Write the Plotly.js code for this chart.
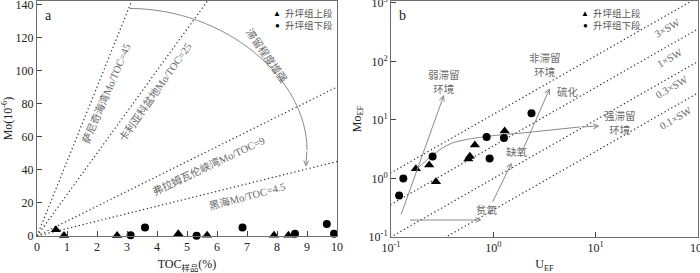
<!DOCTYPE html>
<html><head><meta charset="utf-8">
<script src="https://cdn.plot.ly/plotly-3.0.1.min.js"></script>
<style>html,body{margin:0;padding:0;background:#fff}#c{width:700px;height:273px}</style>
</head><body><div id="c"></div>
<script>
// ---- Panel a: TOC vs Mo ----
const tocUpper = [0.63, 0.9, 2.67, 4.71, 5.67, 7.9, 8.38];
const moUpper  = [3.8, 0.3, 0.3, 1.4, 0.4, 0.4, 0.4];
const tocLower = [3.12, 3.6, 5.32, 6.85, 8.6, 9.66, 9.9];
const moLower  = [0.5, 5.2, 0.2, 5.2, 1.4, 7.2, 1.4];
const refRatios = [45, 25, 9, 4.5];
const refNames = ['萨尼奇海湾Mo/TOC=45', '卡利亚科盆地Mo/TOC=25', '弗拉姆瓦伦峡湾Mo/TOC=9', '黑海Mo/TOC=4.5'];

// ---- Panel b: U_EF vs Mo_EF ----
const uUpper  = [1.29, 0.66, 0.59, 0.57, 0.236, 0.175, 0.275];
const moEFUpper = [6.5, 3.75, 2.4, 2.15, 1.70, 1.47, 0.88];
const uLower  = [2.36, 0.86, 1.27, 0.92, 0.255, 0.132, 0.12];
const moEFLower = [13, 5.1, 4.9, 2.2, 2.37, 1.0, 0.51];
const swRatios = [12.5, 3.6, 1.0, 0.29];
const swLabels = ['3×SW', '1×SW', '0.3×SW', '0.1×SW'];
// guide curve (trend arrow) in panel b
const curveU  = [0.178, 0.269, 0.391, 0.826, 2.03, 7.0];
const curveMo = [1.44, 2.70, 4.0, 5.18, 6.06, 7.6];

const legendNames = ['升坪组上段', '升坪组下段'];
const xTickA = [0,1,2,3,4,5,6,7,8,9,10];
const yTickA = [0,20,40,60,80,100,120,140];
const logTicks = [0.1, 1, 10, 100];
const logTickText = ['10<sup>-1</sup>', '10<sup>0</sup>', '10<sup>1</sup>', '10<sup>2</sup>'];
const yLogTicks = [0.1, 1, 10, 100, 1000];
const yLogTickText = ['10<sup>-1</sup>', '10<sup>0</sup>', '10<sup>1</sup>', '10<sup>2</sup>', '10<sup>3</sup>'];

const FONT = 'Liberation Serif, Times New Roman, Noto Sans CJK SC, serif';
const GREY = '#8a8a8a';
const TXT = '#6a6a6a';
const DOT = '1.3px,2.6px';

const traces = [];
refRatios.forEach(k => {
  traces.push({x: [0, 12], y: [0, 12 * k], xaxis: 'x', yaxis: 'y', mode: 'lines',
    line: {color: '#333', width: 1.2, dash: DOT}, hoverinfo: 'skip', showlegend: false});
});
swRatios.forEach(k => {
  traces.push({x: [0.01, 1000], y: [0.01 * k, 1000 * k], xaxis: 'x2', yaxis: 'y2', mode: 'lines',
    line: {color: '#333', width: 1.2, dash: DOT}, hoverinfo: 'skip', showlegend: false});
});
traces.push({x: curveU, y: curveMo, xaxis: 'x2', yaxis: 'y2', mode: 'lines',
  line: {color: GREY, width: 1, shape: 'spline'}, hoverinfo: 'skip', showlegend: false});

traces.push({x: tocUpper, y: moUpper, xaxis: 'x', yaxis: 'y', mode: 'markers', name: legendNames[0],
  marker: {symbol: 'triangle-up', size: 9, color: '#000'}, cliponaxis: false, showlegend: false});
traces.push({x: tocLower, y: moLower, xaxis: 'x', yaxis: 'y', mode: 'markers', name: legendNames[1],
  marker: {symbol: 'circle', size: 8, color: '#000'}, cliponaxis: false, showlegend: false});
traces.push({x: uUpper, y: moEFUpper, xaxis: 'x2', yaxis: 'y2', mode: 'markers', name: legendNames[0],
  marker: {symbol: 'triangle-up', size: 9, color: '#000'}, showlegend: false});
traces.push({x: uLower, y: moEFLower, xaxis: 'x2', yaxis: 'y2', mode: 'markers', name: legendNames[1],
  marker: {symbol: 'circle', size: 8, color: '#000'}, showlegend: false});

const W = 700, H = 273;
const px = v => v / W, py = v => 1 - v / H;
const L10 = Math.log10;

function txt(text, x, y, angle, size, color, xanchor) {
  return {text, xref: 'paper', yref: 'paper', x: px(x), y: py(y), showarrow: false,
    textangle: angle || 0, xanchor: xanchor || 'center', yanchor: 'middle',
    font: {family: FONT, size: size || 11, color: color || TXT}};
}
function arrowB(u0, m0, u1, m1) {
  return {xref: 'x2', yref: 'y2', axref: 'x2', ayref: 'y2', x: L10(u1), y: L10(m1), ax: L10(u0), ay: L10(m0),
    text: '', showarrow: true, arrowhead: 5, arrowsize: 1, arrowwidth: 1, arrowcolor: GREY, standoff: 0, startstandoff: 0};
}

const annotations = [
  txt('a', 48, 15, 0, 14, '#222'),
  txt('b', 402, 15, 0, 14, '#222'),
  txt(refNames[0], 106, 94, -67, 10.5),
  txt(refNames[1], 155, 92, -55, 10.5),
  txt(refNames[2], 208, 166, -25.5, 10.5),
  txt(refNames[3], 247, 196, -15, 10.5),
  txt('滞留程度增强', 267, 56, 55, 10.5),
  // legends
  txt('▲', 277, 13, 0, 8, '#000'), txt(legendNames[0], 283, 13, 0, 9.5, '#555', 'left'),
  txt('●', 277, 25, 0, 8, '#000'), txt(legendNames[1], 283, 25, 0, 9.5, '#555', 'left'),
  txt('▲', 585, 13, 0, 8, '#000'), txt(legendNames[0], 591, 13, 0, 9.5, '#555', 'left'),
  txt('●', 585, 25, 0, 8, '#000'), txt(legendNames[1], 591, 25, 0, 9.5, '#555', 'left'),
  // panel b texts
  txt('弱滞留<br>环境', 444, 82, 0, 10.5),
  txt('非滞留<br>环境', 545, 65, 0, 10.5),
  txt('硫化', 568, 92, 0, 10.5),
  txt('强滞留<br>环境', 620, 123, 0, 10.5),
  txt('缺氧', 517, 152, 0, 10.5),
  txt('贫氧', 487, 210, 0, 10.5),
  txt(swLabels[0], 667, 29, -30, 10.5),
  txt(swLabels[1], 669, 58, -30, 10.5),
  txt(swLabels[2], 671, 87, -30, 10.5),
  txt(swLabels[3], 675, 118, -30, 10.5),
  // arrows panel b
  arrowB(0.124, 0.229, 0.329, 26.7),
  arrowB(0.148, 0.195, 0.767, 0.195),
  arrowB(0.97, 0.377, 1.51, 1.86),
  arrowB(1.88, 2.70, 3.56, 34.8),
  arrowB(7.0, 7.6, 10.9, 7.9),
  // arrow panel a arc end
  {xref: 'x', yref: 'y', axref: 'x', ayref: 'y', x: 8.96, y: 41.8, ax: 9.0, ay: 52, text: '', showarrow: true,
   arrowhead: 5, arrowsize: 1, arrowwidth: 1, arrowcolor: GREY, standoff: 0}
];

const shapes = [
  {type: 'path', xref: 'x', yref: 'y', path: 'M3.07,137.5 C6.3,137.5 9.0,95 9.0,52',
   line: {color: GREY, width: 1}}
];

const axBase = {showline: true, mirror: true, linecolor: '#6e6e6e', linewidth: 1, ticks: 'inside', ticklen: 5,
  tickcolor: '#444', tickwidth: 1, showgrid: false, zeroline: false, ticklabeloverflow: 'allow',
  tickfont: {family: FONT, size: 12, color: '#222'}};

const layout = {
  width: W, height: H, margin: {l: 0, r: 0, t: 0, b: 0}, paper_bgcolor: '#fff', plot_bgcolor: '#fff',
  showlegend: false, font: {family: FONT},
  xaxis: Object.assign({}, axBase, {domain: [37 / W, 337 / W], range: [0, 10], tickmode: 'array', tickvals: xTickA,
    anchor: 'y', title: {text: 'TOC<sub>样品</sub>(%)', font: {family: FONT, size: 12, color: '#222'}, standoff: 6}}),
  yaxis: Object.assign({}, axBase, {domain: [(H - 236) / H, (H - 1) / H], range: [0, 142], tickmode: 'array', tickvals: yTickA,
    anchor: 'x', title: {text: 'Mo(10<sup>-6</sup>)', font: {family: FONT, size: 12, color: '#222'}, standoff: 4}}),
  xaxis2: Object.assign({}, axBase, {domain: [391 / W, 698 / W], type: 'log', range: [-1, 2], tickmode: 'array',
    tickvals: logTicks, ticktext: logTickText, anchor: 'y2',
    title: {text: 'U<sub>EF</sub>', font: {family: FONT, size: 12, color: '#222'}, standoff: 6}}),
  yaxis2: Object.assign({}, axBase, {domain: [(H - 237) / H, (H - 1) / H], type: 'log', range: [-1, 3.034], tickmode: 'array',
    tickvals: yLogTicks, ticktext: yLogTickText, anchor: 'x2',
    title: {text: 'Mo<sub>EF</sub>', font: {family: FONT, size: 12, color: '#222'}, standoff: 4}}),
  annotations, shapes
};

Plotly.newPlot('c', traces, layout, {displayModeBar: false, staticPlot: true});
</script></body></html>
